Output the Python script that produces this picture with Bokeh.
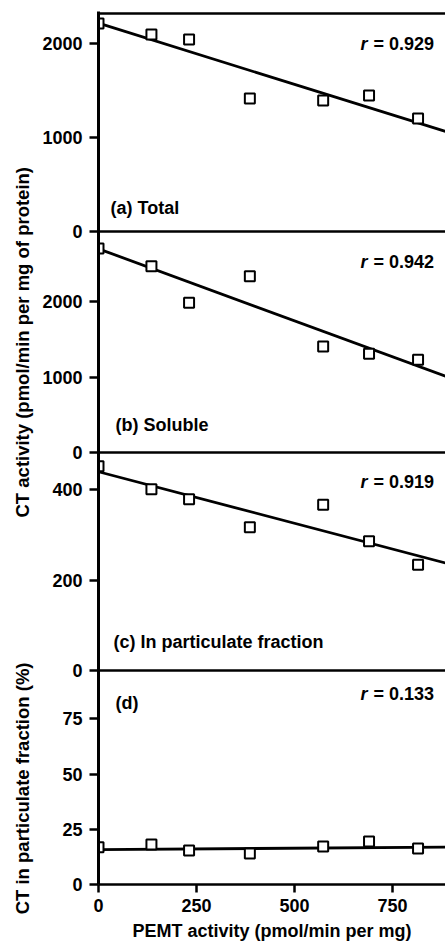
import math
from bokeh.plotting import figure
from bokeh.models import Range1d, FixedTicker, Span, Label, Title
from bokeh.layouts import row, column
from bokeh.embed import file_html
from bokeh.resources import INLINE

# ---------------- data ----------------
pemt = [0, 135, 231, 386, 573, 690, 815]
ct_total = [2213, 2096, 2043, 1415, 1394, 1447, 1202]
ct_soluble = [2709, 2474, 1988, 2341, 1408, 1311, 1231]
ct_particulate = [452, 401, 379, 317, 367, 286, 234]
pct_particulate = [16.9, 18.1, 15.4, 14.0, 17.2, 19.5, 16.3]

fit_x = [0, 885]
fit_total = [2216, 1064]
fit_soluble = [2705, 1013]
fit_particulate = [440, 238]
fit_pct = [15.8, 16.9]

r_values = ["0.929", "0.942", "0.919", "0.133"]
panel_titles = ["(a)  Total", "(b)  Soluble", "(c)  In particulate fraction", "(d)"]
x_ticks = [0, 250, 500, 750]
y_ticks = [[0, 1000, 2000], [0, 1000, 2000], [0, 200, 400], [0, 25, 50, 75]]
x_label = "PEMT activity (pmol/min per mg)"
y_label_top = "CT activity (pmol/min per mg of protein)"
y_label_bottom = "CT in particulate fraction (%)"

# ---------------- layout (page pixels) ----------------
FONT = "Liberation Sans"
PAGE_W, PAGE_H = 445, 945
LABEL_W = 36
MAIN_W = PAGE_W - LABEL_W
FRAME_LEFT = 98
FRAME_TOP = 11
FRAME_BOTTOM = 884
X_END = 885
XS = (MAIN_W - (FRAME_LEFT - LABEL_W)) / X_END  # px per x unit

names = ["a", "b", "c", "d"]
zero_px = [231, 452, 670, 884]
px_per_unit = [0.094, 0.0753, 0.4517, 2.21]
series = [ct_total, ct_soluble, ct_particulate, pct_particulate]
fits = [fit_total, fit_soluble, fit_particulate, fit_pct]
title_px = [(110, 207), (115, 424), (113, 641), (115, 702)]
r_px_y = [43, 261, 481, 693]
R_X = 360
EQ_X = 373
TOP_LINE_PX = 13
SPLIT_PX = 600          # boundary between the two y-title strips
YT1_BOTTOM_PX = 517     # start of the upper y title
YT2_TOP_PX = 662        # end of the lower y title
STRIP_BORDER = 33


def xdata(px):
    return (px - FRAME_LEFT) / XS


def ydata(i, px):
    return (zero_px[i] - px) / px_per_unit[i]


p = figure(width=MAIN_W, height=PAGE_H, x_range=Range1d(0, X_END),
           y_range=Range1d(FRAME_BOTTOM, FRAME_TOP),
           output_backend="svg", toolbar_location=None,
           min_border_left=FRAME_LEFT - LABEL_W, min_border_right=0,
           min_border_top=FRAME_TOP, min_border_bottom=PAGE_H - FRAME_BOTTOM)
p.title.visible = False
p.xgrid.visible = False
p.ygrid.visible = False
p.outline_line_color = None
p.background_fill_color = "white"
p.border_fill_color = "white"

for i, n in enumerate(names):
    p.extra_y_ranges[n] = Range1d(ydata(i, FRAME_BOTTOM), ydata(i, FRAME_TOP))

# y axis: one axis, ticks placed for each panel
ticks = []
overrides = {}
for i in range(4):
    for v in y_ticks[i]:
        t = int(round(zero_px[i] - v * px_per_unit[i]))
        if t not in overrides:
            ticks.append(t)
            overrides[t] = str(v)
ya = p.yaxis[0]
ya.ticker = FixedTicker(ticks=ticks)
ya.major_label_overrides = overrides
ya.axis_line_width = 3
ya.major_tick_line_width = 2.5
ya.major_tick_out = 9
ya.major_tick_in = 0
ya.minor_tick_out = 0
ya.minor_tick_in = 0
ya.major_label_standoff = 7
ya.major_label_text_font = FONT
ya.major_label_text_font_style = "bold"
ya.major_label_text_font_size = "18px"
ya.major_label_text_color = "black"

xa = p.xaxis[0]
xa.ticker = FixedTicker(ticks=x_ticks)
xa.axis_line_width = 2.5
xa.major_tick_line_width = 2.5
xa.major_tick_out = 8
xa.major_tick_in = 0
xa.minor_tick_out = 0
xa.minor_tick_in = 0
xa.major_label_standoff = 6
xa.major_label_text_font = FONT
xa.major_label_text_font_style = "bold"
xa.major_label_text_font_size = "18px"
xa.major_label_text_color = "black"
xa.axis_label = x_label
xa.axis_label_standoff = 6
xa.axis_label_text_font = FONT
xa.axis_label_text_font_style = "bold"
xa.axis_label_text_font_size = "18px"
xa.axis_label_text_color = "black"

# panel separators and top border
for n in names[:3]:
    p.add_layout(Span(location=0, dimension="width", y_range_name=n,
                      line_color="black", line_width=2.5))
p.add_layout(Span(location=TOP_LINE_PX, dimension="width",
                  line_color="black", line_width=2.5))

for i, n in enumerate(names):
    p.line(fit_x, fits[i], y_range_name=n, line_color="black", line_width=2.8)
    p.scatter(pemt, series[i], y_range_name=n, marker="square", size=10,
              fill_color="white", line_color="black", line_width=2)
    tx, ty = title_px[i]
    p.add_layout(Label(x=xdata(tx), y=ydata(i, ty), y_range_name=n,
                       text=panel_titles[i], text_font=FONT,
                       text_font_style="bold", text_font_size="18px",
                       text_color="black", text_baseline="alphabetic"))
    p.add_layout(Label(x=xdata(R_X), y=ydata(i, r_px_y[i]), y_range_name=n,
                       text="r", text_font=FONT,
                       text_font_style="bold italic", text_font_size="18px",
                       text_color="black", text_baseline="alphabetic"))
    p.add_layout(Label(x=xdata(EQ_X), y=ydata(i, r_px_y[i]), y_range_name=n,
                       text="= " + r_values[i], text_font=FONT,
                       text_font_style="bold", text_font_size="18px",
                       text_color="black", text_baseline="alphabetic"))


# two stacked strips on the left, each carrying one vertical title
def strip(h):
    s = figure(width=LABEL_W, height=h, x_range=Range1d(0, 1), y_range=Range1d(0, 1),
               x_axis_location=None, y_axis_location=None,
               min_border_left=STRIP_BORDER, min_border_right=0,
               min_border_top=0, min_border_bottom=0,
               toolbar_location=None, output_backend="svg")
    s.title.visible = False
    s.grid.visible = False
    s.outline_line_color = None
    return s


top_strip = strip(SPLIT_PX)
top_strip.add_layout(Title(text=y_label_top, align="left",
                           offset=SPLIT_PX - YT1_BOTTOM_PX, standoff=0,
                           vertical_align="middle", text_font=FONT,
                           text_font_style="bold", text_font_size="18.5px",
                           text_color="black"), "left")
bottom_strip = strip(PAGE_H - SPLIT_PX)
bottom_strip.add_layout(Title(text=y_label_bottom, align="right",
                              offset=YT2_TOP_PX - SPLIT_PX, standoff=0,
                              vertical_align="middle", text_font=FONT,
                              text_font_style="bold", text_font_size="18.5px",
                              text_color="black"), "left")

layout = row(column(top_strip, bottom_strip, spacing=0), p, spacing=0)
open("out.html", "w").write(file_html(layout, INLINE))
